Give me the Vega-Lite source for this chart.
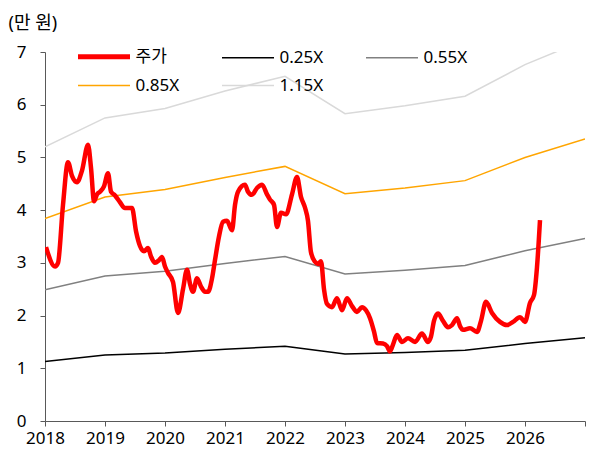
{
  "$schema": "https://vega.github.io/schema/vega-lite/v6.json",
  "autosize": "none",
  "width": 540,
  "height": 369,
  "padding": {"left": 45, "top": 52, "right": 25, "bottom": 35},
  "background": "white",
  "config": {
    "font": "Noto Sans, Noto Sans CJK KR",
    "view": {"stroke": null}
  },
  "datasets": {
    "bands": [
      {"series": "0.25X", "t": 2018, "v": 1.13}, {"series": "0.25X", "t": 2019, "v": 1.25}, {"series": "0.25X", "t": 2020, "v": 1.29}, {"series": "0.25X", "t": 2021, "v": 1.36}, {"series": "0.25X", "t": 2022, "v": 1.42}, {"series": "0.25X", "t": 2023, "v": 1.27}, {"series": "0.25X", "t": 2024, "v": 1.30}, {"series": "0.25X", "t": 2025, "v": 1.34}, {"series": "0.25X", "t": 2026, "v": 1.47}, {"series": "0.25X", "t": 2027, "v": 1.58},
      {"series": "0.55X", "t": 2018, "v": 2.49}, {"series": "0.55X", "t": 2019, "v": 2.75}, {"series": "0.55X", "t": 2020, "v": 2.84}, {"series": "0.55X", "t": 2021, "v": 2.99}, {"series": "0.55X", "t": 2022, "v": 3.12}, {"series": "0.55X", "t": 2023, "v": 2.79}, {"series": "0.55X", "t": 2024, "v": 2.86}, {"series": "0.55X", "t": 2025, "v": 2.95}, {"series": "0.55X", "t": 2026, "v": 3.23}, {"series": "0.55X", "t": 2027, "v": 3.46},
      {"series": "0.85X", "t": 2018, "v": 3.84}, {"series": "0.85X", "t": 2019, "v": 4.25}, {"series": "0.85X", "t": 2020, "v": 4.39}, {"series": "0.85X", "t": 2021, "v": 4.62}, {"series": "0.85X", "t": 2022, "v": 4.83}, {"series": "0.85X", "t": 2023, "v": 4.31}, {"series": "0.85X", "t": 2024, "v": 4.42}, {"series": "0.85X", "t": 2025, "v": 4.56}, {"series": "0.85X", "t": 2026, "v": 5.0}, {"series": "0.85X", "t": 2027, "v": 5.35},
      {"series": "1.15X", "t": 2018, "v": 5.2}, {"series": "1.15X", "t": 2019, "v": 5.75}, {"series": "1.15X", "t": 2020, "v": 5.93}, {"series": "1.15X", "t": 2021, "v": 6.26}, {"series": "1.15X", "t": 2022, "v": 6.54}, {"series": "1.15X", "t": 2023, "v": 5.83}, {"series": "1.15X", "t": 2024, "v": 5.98}, {"series": "1.15X", "t": 2025, "v": 6.16}, {"series": "1.15X", "t": 2026, "v": 6.76}, {"series": "1.15X", "t": 2027, "v": 7.23}
    ],
    "price": [
      {"series": "주가", "t": 2018.017, "v": 3.30},
      {"series": "주가", "t": 2018.167, "v": 2.93},
      {"series": "주가", "t": 2018.217, "v": 3.0},
      {"series": "주가", "t": 2018.3, "v": 4.1},
      {"series": "주가", "t": 2018.383, "v": 4.91},
      {"series": "주가", "t": 2018.45, "v": 4.65},
      {"series": "주가", "t": 2018.533, "v": 4.53},
      {"series": "주가", "t": 2018.617, "v": 4.75},
      {"series": "주가", "t": 2018.717, "v": 5.24},
      {"series": "주가", "t": 2018.767, "v": 4.8},
      {"series": "주가", "t": 2018.817, "v": 4.17},
      {"series": "주가", "t": 2018.867, "v": 4.3},
      {"series": "주가", "t": 2018.917, "v": 4.35},
      {"series": "주가", "t": 2018.983, "v": 4.45},
      {"series": "주가", "t": 2019.05, "v": 4.70},
      {"series": "주가", "t": 2019.1, "v": 4.35},
      {"series": "주가", "t": 2019.167, "v": 4.28},
      {"series": "주가", "t": 2019.25, "v": 4.15},
      {"series": "주가", "t": 2019.333, "v": 4.04},
      {"series": "주가", "t": 2019.45, "v": 4.04},
      {"series": "주가", "t": 2019.517, "v": 3.6},
      {"series": "주가", "t": 2019.583, "v": 3.32},
      {"series": "주가", "t": 2019.65, "v": 3.22},
      {"series": "주가", "t": 2019.717, "v": 3.28},
      {"series": "주가", "t": 2019.767, "v": 3.12},
      {"series": "주가", "t": 2019.833, "v": 3.0},
      {"series": "주가", "t": 2019.9, "v": 3.05},
      {"series": "주가", "t": 2019.95, "v": 3.11},
      {"series": "주가", "t": 2020.0, "v": 2.93},
      {"series": "주가", "t": 2020.05, "v": 2.81},
      {"series": "주가", "t": 2020.133, "v": 2.64},
      {"series": "주가", "t": 2020.217, "v": 2.05},
      {"series": "주가", "t": 2020.3, "v": 2.5},
      {"series": "주가", "t": 2020.367, "v": 2.87},
      {"series": "주가", "t": 2020.417, "v": 2.6},
      {"series": "주가", "t": 2020.467, "v": 2.45},
      {"series": "주가", "t": 2020.533, "v": 2.71},
      {"series": "주가", "t": 2020.6, "v": 2.55},
      {"series": "주가", "t": 2020.667, "v": 2.45},
      {"series": "주가", "t": 2020.717, "v": 2.45},
      {"series": "주가", "t": 2020.783, "v": 2.7},
      {"series": "주가", "t": 2020.833, "v": 3.05},
      {"series": "주가", "t": 2020.9, "v": 3.5},
      {"series": "주가", "t": 2020.967, "v": 3.78},
      {"series": "주가", "t": 2021.033, "v": 3.8},
      {"series": "주가", "t": 2021.117, "v": 3.62},
      {"series": "주가", "t": 2021.167, "v": 4.1},
      {"series": "주가", "t": 2021.217, "v": 4.35},
      {"series": "주가", "t": 2021.333, "v": 4.48},
      {"series": "주가", "t": 2021.383, "v": 4.35},
      {"series": "주가", "t": 2021.45, "v": 4.29},
      {"series": "주가", "t": 2021.533, "v": 4.42},
      {"series": "주가", "t": 2021.617, "v": 4.48},
      {"series": "주가", "t": 2021.7, "v": 4.3},
      {"series": "주가", "t": 2021.75, "v": 4.2},
      {"series": "주가", "t": 2021.817, "v": 4.1},
      {"series": "주가", "t": 2021.867, "v": 3.68},
      {"series": "주가", "t": 2021.933, "v": 3.95},
      {"series": "주가", "t": 2022.017, "v": 3.92},
      {"series": "주가", "t": 2022.117, "v": 4.3},
      {"series": "주가", "t": 2022.2, "v": 4.63},
      {"series": "주가", "t": 2022.267, "v": 4.25},
      {"series": "주가", "t": 2022.333, "v": 4.05},
      {"series": "주가", "t": 2022.383, "v": 3.8},
      {"series": "주가", "t": 2022.433, "v": 3.2},
      {"series": "주가", "t": 2022.5, "v": 3.02},
      {"series": "주가", "t": 2022.55, "v": 2.98},
      {"series": "주가", "t": 2022.6, "v": 3.03},
      {"series": "주가", "t": 2022.65, "v": 2.5},
      {"series": "주가", "t": 2022.7, "v": 2.22},
      {"series": "주가", "t": 2022.783, "v": 2.16},
      {"series": "주가", "t": 2022.867, "v": 2.33},
      {"series": "주가", "t": 2022.95, "v": 2.1},
      {"series": "주가", "t": 2023.033, "v": 2.33},
      {"series": "주가", "t": 2023.117, "v": 2.18},
      {"series": "주가", "t": 2023.2, "v": 2.07},
      {"series": "주가", "t": 2023.283, "v": 2.16},
      {"series": "주가", "t": 2023.35, "v": 2.1},
      {"series": "주가", "t": 2023.417, "v": 1.95},
      {"series": "주가", "t": 2023.483, "v": 1.7},
      {"series": "주가", "t": 2023.533, "v": 1.48},
      {"series": "주가", "t": 2023.633, "v": 1.47},
      {"series": "주가", "t": 2023.7, "v": 1.42},
      {"series": "주가", "t": 2023.75, "v": 1.32},
      {"series": "주가", "t": 2023.8, "v": 1.45},
      {"series": "주가", "t": 2023.867, "v": 1.63},
      {"series": "주가", "t": 2023.95, "v": 1.5},
      {"series": "주가", "t": 2024.05, "v": 1.57},
      {"series": "주가", "t": 2024.167, "v": 1.5},
      {"series": "주가", "t": 2024.283, "v": 1.66},
      {"series": "주가", "t": 2024.383, "v": 1.5},
      {"series": "주가", "t": 2024.433, "v": 1.6},
      {"series": "주가", "t": 2024.483, "v": 1.9},
      {"series": "주가", "t": 2024.55, "v": 2.04},
      {"series": "주가", "t": 2024.633, "v": 1.9},
      {"series": "주가", "t": 2024.717, "v": 1.78},
      {"series": "주가", "t": 2024.783, "v": 1.82},
      {"series": "주가", "t": 2024.867, "v": 1.95},
      {"series": "주가", "t": 2024.917, "v": 1.8},
      {"series": "주가", "t": 2024.967, "v": 1.73},
      {"series": "주가", "t": 2025.083, "v": 1.76},
      {"series": "주가", "t": 2025.2, "v": 1.69},
      {"series": "주가", "t": 2025.267, "v": 1.9},
      {"series": "주가", "t": 2025.35, "v": 2.26},
      {"series": "주가", "t": 2025.45, "v": 2.05},
      {"series": "주가", "t": 2025.583, "v": 1.88},
      {"series": "주가", "t": 2025.7, "v": 1.82},
      {"series": "주가", "t": 2025.8, "v": 1.88},
      {"series": "주가", "t": 2025.917, "v": 1.97},
      {"series": "주가", "t": 2026.0, "v": 1.88},
      {"series": "주가", "t": 2026.083, "v": 2.24},
      {"series": "주가", "t": 2026.15, "v": 2.39},
      {"series": "주가", "t": 2026.2, "v": 2.92},
      {"series": "주가", "t": 2026.25, "v": 3.81}
    ]
  },
  "encoding": {
    "x": {
      "field": "t", "type": "quantitative",
      "scale": {"domain": [2018, 2027], "nice": false, "zero": false},
      "axis": {
        "title": null, "values": [2018, 2019, 2020, 2021, 2022, 2023, 2024, 2025, 2026, 2027],
        "format": "d", "labelExpr": "datum.value == 2027 ? '' : datum.label",
        "grid": false, "domainColor": "#595959", "tickColor": "#595959", "tickSize": 5,
        "labelFontSize": 17, "labelColor": "#000000", "labelPadding": 4, "labelFlush": false, "labelOverlap": false
      }
    },
    "y": {
      "field": "v", "type": "quantitative",
      "scale": {"domain": [0, 7], "nice": false},
      "axis": {
        "title": "(만 원)", "titleAngle": 0, "titleAlign": "left", "titleBaseline": "middle",
        "titleX": -37, "titleY": -29, "titleFontSize": 18, "titleFontWeight": "normal", "titleColor": "#000000",
        "values": [0, 1, 2, 3, 4, 5, 6, 7],
        "grid": false, "domainColor": "#595959", "tickColor": "#595959", "tickSize": 5,
        "labelFontSize": 17, "labelColor": "#000000", "labelPadding": 14
      }
    },
    "color": {
      "field": "series", "type": "nominal",
      "scale": {
        "domain": ["주가", "0.25X", "0.55X", "0.85X", "1.15X"],
        "range": ["#FF0000", "#000000", "#808080", "#FFA500", "#D9D9D9"]
      },
      "legend": {
        "title": null, "orient": "none", "legendX": 33, "legendY": -4,
        "columns": 3, "direction": "horizontal", "gridAlign": "all",
        "symbolType": "stroke", "symbolSize": 2704, "symbolStrokeWidth": 1.5, "symbolOffset": 17.5,
        "labelFontSize": 17, "labelColor": "#000000", "labelOffset": 23,
        "columnPadding": 39, "rowPadding": 9, "labelLimit": 200,
        "encode": {
          "symbols": {"update": {"strokeWidth": {"signal": "datum.value == '주가' ? 5 : 1.5"}}}
        }
      }
    }
  },
  "layer": [
    {
      "data": {"name": "bands"},
      "mark": {"type": "line", "strokeWidth": 1.5, "clip": true},
      "encoding": {}
    },
    {
      "data": {"name": "price"},
      "mark": {"type": "line", "strokeWidth": 4.5, "interpolate": "monotone", "clip": true},
      "encoding": {}
    }
  ]
}
